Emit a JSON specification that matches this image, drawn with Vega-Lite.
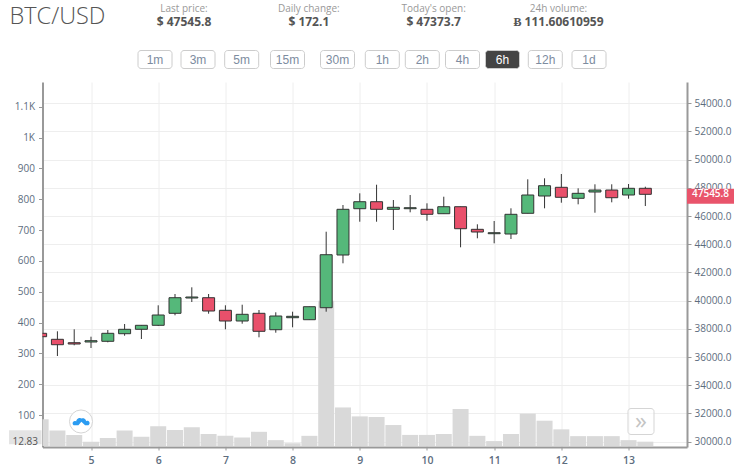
{
  "$schema": "https://vega.github.io/schema/vega-lite/v6.json",
  "autosize": "none",
  "padding": {"left": 42.5, "top": 82, "right": 63, "bottom": 24},
  "width": 644.5,
  "height": 365,
  "background": "white",
  "view": {"stroke": null},
  "title": {
    "text": "BTC/USD", "anchor": "start", "frame": "group", "dx": -33, "offset": -24,
    "font": "Open Sans", "fontSize": 23.5, "fontWeight": 300, "color": "#555"
  },
  "datasets": {
    "candles": [
      {"day": 4.25, "open": 37681, "close": 37440, "high": 37681, "low": 37440, "side": "down"},
      {"day": 4.5, "open": 37255, "close": 36872, "high": 37822, "low": 36071, "side": "down"},
      {"day": 4.75, "open": 37014, "close": 36922, "high": 37964, "low": 36830, "side": "down"},
      {"day": 5, "open": 37064, "close": 37156, "high": 37440, "low": 36638, "side": "up"},
      {"day": 5.25, "open": 37113, "close": 37681, "high": 37915, "low": 37042, "side": "up"},
      {"day": 5.5, "open": 37652, "close": 37964, "high": 38340, "low": 37510, "side": "up"},
      {"day": 5.75, "open": 37964, "close": 38248, "high": 38269, "low": 37276, "side": "up"},
      {"day": 6, "open": 38248, "close": 38978, "high": 39666, "low": 38198, "side": "up"},
      {"day": 6.25, "open": 39099, "close": 40205, "high": 40468, "low": 38957, "side": "up"},
      {"day": 6.5, "open": 40184, "close": 40255, "high": 40943, "low": 39900, "side": "up"},
      {"day": 6.75, "open": 40205, "close": 39262, "high": 40468, "low": 39071, "side": "down"},
      {"day": 7, "open": 39312, "close": 38553, "high": 39666, "low": 37964, "side": "down"},
      {"day": 7.25, "open": 38553, "close": 39028, "high": 39709, "low": 38361, "side": "up"},
      {"day": 7.5, "open": 39099, "close": 37822, "high": 39333, "low": 37397, "side": "down"},
      {"day": 7.75, "open": 37936, "close": 38907, "high": 39170, "low": 37723, "side": "up"},
      {"day": 8, "open": 38787, "close": 38886, "high": 39213, "low": 38106, "side": "up"},
      {"day": 8.25, "open": 38645, "close": 39567, "high": 39567, "low": 38645, "side": "up"},
      {"day": 8.5, "open": 39496, "close": 43255, "high": 44886, "low": 39213, "side": "up"},
      {"day": 8.75, "open": 43234, "close": 46475, "high": 46780, "low": 42645, "side": "up"},
      {"day": 9, "open": 46517, "close": 47014, "high": 47609, "low": 45595, "side": "up"},
      {"day": 9.25, "open": 47014, "close": 46475, "high": 48219, "low": 45595, "side": "down"},
      {"day": 9.5, "open": 46475, "close": 46617, "high": 47134, "low": 45007, "side": "up"},
      {"day": 9.75, "open": 46517, "close": 46588, "high": 47489, "low": 46262, "side": "up"},
      {"day": 10, "open": 46475, "close": 46120, "high": 46900, "low": 45666, "side": "down"},
      {"day": 10.25, "open": 46163, "close": 46659, "high": 47368, "low": 46163, "side": "up"},
      {"day": 10.5, "open": 46659, "close": 45099, "high": 46659, "low": 43780, "side": "down"},
      {"day": 10.75, "open": 45056, "close": 44865, "high": 45411, "low": 44418, "side": "down"},
      {"day": 11, "open": 44744, "close": 44815, "high": 45645, "low": 44063, "side": "up"},
      {"day": 11.25, "open": 44723, "close": 46120, "high": 46546, "low": 44368, "side": "up"},
      {"day": 11.5, "open": 46191, "close": 47489, "high": 48602, "low": 46191, "side": "up"},
      {"day": 11.75, "open": 47418, "close": 48148, "high": 48673, "low": 46546, "side": "up"},
      {"day": 12, "open": 48035, "close": 47326, "high": 48978, "low": 46943, "side": "down"},
      {"day": 12.25, "open": 47255, "close": 47609, "high": 47964, "low": 46829, "side": "up"},
      {"day": 12.5, "open": 47702, "close": 47843, "high": 48248, "low": 46234, "side": "up"},
      {"day": 12.75, "open": 47843, "close": 47297, "high": 48248, "low": 46971, "side": "down"},
      {"day": 13, "open": 47489, "close": 47964, "high": 48269, "low": 47226, "side": "up"},
      {"day": 13.25, "open": 47964, "close": 47538, "high": 48078, "low": 46708, "side": "down"}
    ],
    "volumes": [
      {"day": 4.25, "volume": 87}, {"day": 4.5, "volume": 50}, {"day": 4.75, "volume": 36},
      {"day": 5, "volume": 14}, {"day": 5.25, "volume": 26}, {"day": 5.5, "volume": 50},
      {"day": 5.75, "volume": 30}, {"day": 6, "volume": 64}, {"day": 6.25, "volume": 52},
      {"day": 6.5, "volume": 61}, {"day": 6.75, "volume": 39}, {"day": 7, "volume": 33},
      {"day": 7.25, "volume": 28}, {"day": 7.5, "volume": 46}, {"day": 7.75, "volume": 19},
      {"day": 8, "volume": 9}, {"day": 8.25, "volume": 33}, {"day": 8.5, "volume": 471},
      {"day": 8.75, "volume": 125}, {"day": 9, "volume": 96}, {"day": 9.25, "volume": 94},
      {"day": 9.5, "volume": 68}, {"day": 9.75, "volume": 36}, {"day": 10, "volume": 36},
      {"day": 10.25, "volume": 39}, {"day": 10.5, "volume": 120}, {"day": 10.75, "volume": 33},
      {"day": 11, "volume": 16}, {"day": 11.25, "volume": 39}, {"day": 11.5, "volume": 105},
      {"day": 11.75, "volume": 82}, {"day": 12, "volume": 54}, {"day": 12.25, "volume": 32},
      {"day": 12.5, "volume": 32}, {"day": 12.75, "volume": 32}, {"day": 13, "volume": 19},
      {"day": 13.25, "volume": 14}
    ],
    "stats": [
      {"slot": 1, "caption": "Last price:", "figure": "$ 47545.8"},
      {"slot": 2, "caption": "Daily change:", "figure": "$ 172.1"},
      {"slot": 3, "caption": "Today's open:", "figure": "$ 47373.7"},
      {"slot": 4, "caption": "24h volume:", "figure": "Ƀ 111.60610959"}
    ],
    "buttons": [
      {"slot": 1, "label": "1m"}, {"slot": 2, "label": "3m"}, {"slot": 3, "label": "5m"},
      {"slot": 4, "label": "15m"}, {"slot": 5, "label": "30m"}, {"slot": 6, "label": "1h"},
      {"slot": 7, "label": "2h"}, {"slot": 8, "label": "4h"}, {"slot": 9, "label": "6h"},
      {"slot": 10, "label": "12h"}, {"slot": 11, "label": "1d"}
    ],
    "last": [{"price": 47545.8, "volume": 12.83}]
  },
  "layer": [
    {
      "data": {"name": "volumes"},
      "mark": {"type": "bar", "size": 16, "color": "#d9d9d9", "clip": true},
      "encoding": {
        "x": {
          "field": "day", "type": "quantitative", "title": null,
          "scale": {"domain": [4.278, 13.87], "nice": false, "zero": false, "padding": 0},
          "axis": {
            "values": [5, 6, 7, 8, 9, 10, 11, 12, 13], "format": "d", "grid": true, "gridColor": "#eeeeee",
            "domainColor": "#999", "domainWidth": 2, "tickColor": "#999", "tickSize": 3,
            "labelColor": "#5d6d7e", "labelFont": "Open Sans", "labelFontSize": 10.5, "labelFontWeight": 600, "labelPadding": 5
          }
        },
        "y": {
          "field": "volume", "type": "quantitative", "title": null,
          "scale": {"domain": [-3.2, 1180], "nice": false, "zero": false},
          "axis": {
            "values": [100, 200, 300, 400, 500, 600, 700, 800, 900, 1000, 1100],
            "labelExpr": "datum.value >= 1000 ? format(datum.value / 1000, '~g') + 'K' : datum.label",
            "grid": false, "domainColor": "#999", "domainWidth": 2, "tickColor": "#999", "tickSize": 4,
            "labelColor": "#5d6d7e", "labelFont": "Open Sans", "labelFontSize": 10, "labelPadding": 4
          }
        },
        "y2": {"datum": 0}
      }
    },
    {
      "data": {"name": "candles"},
      "mark": {"type": "rule", "color": "#333", "strokeWidth": 1, "clip": true},
      "encoding": {
        "x": {"field": "day", "type": "quantitative", "scale": {"domain": [4.278, 13.87], "nice": false, "zero": false}, "axis": null},
        "y": {
          "field": "low", "type": "quantitative", "title": null,
          "scale": {"domain": [29617, 55504], "nice": false, "zero": false},
          "axis": {
            "orient": "right", "values": [30000, 32000, 34000, 36000, 38000, 40000, 42000, 44000, 46000, 48000, 50000, 52000, 54000],
            "format": ".1f", "grid": true, "gridColor": "#eeeeee",
            "domainColor": "#999", "domainWidth": 2, "tickColor": "#999", "tickSize": 4,
            "labelColor": "#5d6d7e", "labelFont": "Open Sans", "labelFontSize": 10, "labelPadding": 3
          }
        },
        "y2": {"field": "high"}
      }
    },
    {
      "data": {"name": "candles"},
      "mark": {"type": "bar", "size": 12, "stroke": "#333", "strokeWidth": 1, "clip": true},
      "encoding": {
        "x": {"field": "day", "type": "quantitative", "scale": {"domain": [4.278, 13.87], "nice": false, "zero": false, "padding": 0}, "axis": null},
        "y": {"field": "open", "type": "quantitative", "scale": {"domain": [29617, 55504], "nice": false, "zero": false}, "axis": null},
        "y2": {"field": "close"},
        "color": {"field": "side", "type": "nominal", "scale": {"domain": ["up", "down"], "range": ["#55b87a", "#e9506b"]}, "legend": null}
      }
    },
    {
      "data": {"name": "last"},
      "mark": {"type": "bar", "size": 15, "color": "#e9546b"},
      "encoding": {
        "y": {"field": "price", "type": "quantitative", "scale": {"domain": [29617, 55504], "nice": false, "zero": false}, "axis": null},
        "x": {"datum": 0, "type": "quantitative", "scale": {"domain": [0, 1], "range": [644.5, 691.5], "padding": 0}, "axis": null},
        "x2": {"datum": 1}
      }
    },
    {
      "data": {"name": "last"},
      "mark": {"type": "text", "color": "white", "font": "Open Sans", "fontSize": 10, "fontWeight": 600},
      "encoding": {
        "text": {"field": "price", "type": "quantitative", "format": ".1f"},
        "y": {"field": "price", "type": "quantitative", "scale": {"domain": [29617, 55504], "nice": false, "zero": false}, "axis": null},
        "x": {"datum": 0.5, "type": "quantitative", "scale": {"domain": [0, 1], "range": [644.5, 691.5]}, "axis": null}
      }
    },
    {
      "data": {"name": "last"},
      "mark": {"type": "bar", "size": 14, "color": "#e4e4e4"},
      "encoding": {
        "y": {"field": "volume", "type": "quantitative", "scale": {"domain": [-3.2, 1180], "nice": false, "zero": false}, "axis": null},
        "x": {"datum": 0, "type": "quantitative", "scale": {"domain": [0, 1], "range": [-33.5, -1], "padding": 0}, "axis": null},
        "x2": {"datum": 1}
      }
    },
    {
      "data": {"name": "last"},
      "mark": {"type": "text", "color": "#555", "font": "Open Sans", "fontSize": 10},
      "encoding": {
        "text": {"field": "volume", "type": "quantitative", "format": ".2f"},
        "y": {"field": "volume", "type": "quantitative", "scale": {"domain": [-3.2, 1180], "nice": false, "zero": false}, "axis": null},
        "x": {"datum": 0.5, "type": "quantitative", "scale": {"domain": [0, 1], "range": [-33.5, -1]}, "axis": null}
      }
    },
    {
      "data": {"name": "stats"},
      "mark": {"type": "text", "color": "#999", "font": "Open Sans", "fontSize": 10},
      "encoding": {
        "text": {"field": "caption"},
        "x": {"field": "slot", "type": "quantitative", "scale": {"domain": [1, 4], "range": [141.5, 516], "nice": false, "zero": false}, "axis": null},
        "y": {"datum": 0, "type": "quantitative", "scale": {"domain": [0, 1], "range": [-73, -60]}, "axis": null}
      }
    },
    {
      "data": {"name": "stats"},
      "mark": {"type": "text", "color": "#555", "font": "Open Sans", "fontSize": 12, "fontWeight": 700},
      "encoding": {
        "text": {"field": "figure"},
        "x": {"field": "slot", "type": "quantitative", "scale": {"domain": [1, 4], "range": [141.5, 516], "nice": false, "zero": false}, "axis": null},
        "y": {"datum": 1, "type": "quantitative", "scale": {"domain": [0, 1], "range": [-73, -60]}, "axis": null}
      }
    },
    {
      "data": {"name": "buttons"},
      "mark": {"type": "bar", "cornerRadius": 3, "stroke": "#ccc", "strokeWidth": 1},
      "encoding": {
        "x": {
          "field": "slot", "type": "quantitative", "axis": null,
          "scale": {"domain": [1, 2, 3, 4, 5, 6, 7, 8, 9, 10, 11], "range": [112.5, 155.5, 199.2, 245, 295, 339.8, 379.8, 420, 460, 502.8, 546.5], "nice": false, "zero": false, "padding": 0}
        },
        "y": {"datum": 0, "type": "quantitative", "scale": {"domain": [0, 1], "range": [-13.5, -31.5]}, "axis": null},
        "y2": {"datum": 1},
        "size": {
          "field": "label", "type": "nominal", "legend": null,
          "scale": {"domain": ["1m", "3m", "5m", "15m", "30m", "1h", "2h", "4h", "6h", "12h", "1d"], "range": [34, 34, 34, 40, 41, 30, 32, 31, 31, 37, 32]}
        },
        "color": {"condition": {"test": "datum.label === '6h'", "value": "#444"}, "value": "white"}
      }
    },
    {
      "data": {"name": "buttons"},
      "mark": {"type": "text", "font": "Liberation Sans", "fontSize": 12},
      "encoding": {
        "text": {"field": "label"},
        "x": {
          "field": "slot", "type": "quantitative", "axis": null,
          "scale": {"domain": [1, 2, 3, 4, 5, 6, 7, 8, 9, 10, 11], "range": [112.5, 155.5, 199.2, 245, 295, 339.8, 379.8, 420, 460, 502.8, 546.5], "nice": false, "zero": false}
        },
        "y": {"datum": 0.5, "type": "quantitative", "scale": {"domain": [0, 1], "range": [-13.5, -31.5]}, "axis": null},
        "color": {"condition": {"test": "datum.label === '6h'", "value": "white"}, "value": "#7d8ca0"}
      }
    },
    {
      "data": {"values": [{"icon": "cloud"}]},
      "mark": {"type": "point", "shape": "circle", "size": 531, "filled": true, "fill": "white", "stroke": "#d5d5d5", "strokeWidth": 1, "opacity": 1},
      "encoding": {
        "x": {"datum": 0, "type": "quantitative", "scale": {"domain": [0, 1], "range": [38.5, 598.5]}, "axis": null},
        "y": {"datum": 0.5, "type": "quantitative", "scale": {"domain": [0, 1], "range": [352.5, 326.5]}, "axis": null}
      }
    },
    {
      "data": {"values": [{"icon": "cloud"}]},
      "mark": {
        "type": "point", "size": 220, "filled": true, "fill": "#2b9cf2", "opacity": 1, "strokeWidth": 0,
        "shape": "M -1 0.5 A 0.3 0.3 0 0 1 -0.65 0 A 0.5 0.5 0 0 1 0.1 -0.4 A 0.45 0.45 0 0 1 0.7 -0.05 A 0.3 0.3 0 0 1 1 0.5 L 0.55 0.5 L 0.05 0.05 L -0.35 0.5 Z"
      },
      "encoding": {
        "x": {"datum": 0, "type": "quantitative", "scale": {"domain": [0, 1], "range": [38.5, 598.5]}, "axis": null},
        "y": {"datum": 0.5, "type": "quantitative", "scale": {"domain": [0, 1], "range": [352.5, 326.5]}, "axis": null}
      }
    },
    {
      "data": {"values": [{"icon": "forward"}]},
      "mark": {"type": "bar", "size": 26, "cornerRadius": 3, "fill": "white", "fillOpacity": 0.6, "stroke": "#d5d5d5", "strokeWidth": 1},
      "encoding": {
        "x": {"datum": 1, "type": "quantitative", "scale": {"domain": [0, 1], "range": [38.5, 598.5], "padding": 0}, "axis": null},
        "y": {"datum": 0, "type": "quantitative", "scale": {"domain": [0, 1], "range": [352.5, 326.5]}, "axis": null},
        "y2": {"datum": 1}
      }
    },
    {
      "data": {"values": [{"icon": "forward"}]},
      "mark": {"type": "text", "text": "»", "font": "Open Sans", "fontSize": 24, "color": "#c4c4c4"},
      "encoding": {
        "x": {"datum": 1, "type": "quantitative", "scale": {"domain": [0, 1], "range": [38.5, 598.5]}, "axis": null},
        "y": {"datum": 0.5, "type": "quantitative", "scale": {"domain": [0, 1], "range": [352.5, 326.5]}, "axis": null}
      }
    }
  ],
  "resolve": {
    "scale": {"x": "independent", "y": "independent", "color": "independent", "size": "independent"},
    "axis": {"x": "independent", "y": "independent"}
  }
}
